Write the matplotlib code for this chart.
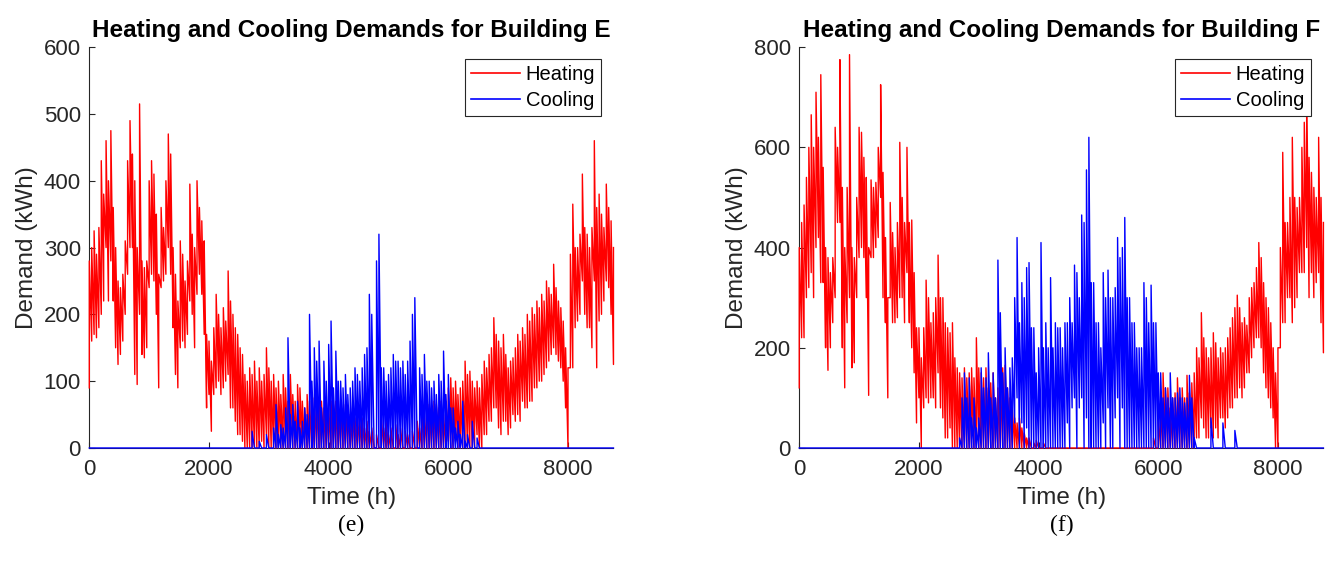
import numpy as np
import matplotlib
matplotlib.use("Agg")
import matplotlib.pyplot as plt

#-------------data-------------#
# hourly demand is far too dense to read hour by hour, so each 40 h window
# is given as the highest and lowest value visible in it
STEP = 40
HOURS = 8760

heat_e_hi = [
    280, 300, 325, 290, 330, 430, 380, 460, 400, 475, 360, 300, 250, 240, 260, 310, 430, 490, 440, 400,
    300, 515, 280, 270, 280, 400, 430, 410, 350, 260, 360, 330, 400, 470, 440, 300, 260, 220, 310, 290,
    250, 280, 395, 320, 300, 400, 360, 340, 310, 170, 160, 130, 180, 230, 200, 180, 210, 190, 265, 220,
    200, 180, 170, 150, 140, 110, 100, 120, 110, 130, 100, 120, 100, 110, 150, 120, 100, 110, 90, 100,
    80, 110, 90, 70, 110, 80, 70, 95, 90, 70, 60, 80, 70, 60, 75, 70, 65, 70, 60, 70,
    60, 70, 65, 70, 60, 70, 55, 65, 60, 50, 60, 45, 50, 40, 45, 30, 40, 25, 30, 0,
    20, 0, 45, 30, 40, 20, 30, 0, 35, 20, 30, 0, 25, 20, 0, 25, 0, 40, 30, 60,
    50, 70, 65, 60, 70, 65, 60, 70, 50, 70, 90, 105, 90, 100, 80, 90, 100, 130, 110, 115,
    100, 90, 100, 90, 110, 130, 120, 140, 150, 195, 170, 160, 150, 170, 140, 120, 130, 135, 150, 170,
    160, 180, 170, 200, 190, 210, 200, 220, 210, 230, 220, 250, 240, 230, 275, 240, 220, 210, 190, 150,
    120, 290, 365, 300, 300, 320, 410, 330, 320, 300, 330, 460, 360, 380, 350, 330, 395, 360, 340, 300,
]
heat_e_lo = [
    90, 160, 170, 165, 180, 200, 220, 300, 220, 280, 220, 150, 125, 140, 160, 200, 260, 300, 300, 110,
    95, 200, 140, 135, 150, 240, 260, 250, 200, 90, 240, 250, 260, 300, 260, 180, 110, 90, 150, 160,
    150, 170, 220, 200, 150, 230, 260, 230, 170, 60, 80, 25, 80, 90, 100, 80, 90, 100, 110, 60,
    60, 40, 20, 20, 10, 0, 0, 0, 0, 0, 0, 0, 10, 0, 20, 0, 0, 0, 0, 0,
    0, 0, 0, 0, 0, 0, 0, 0, 0, 0, 0, 0, 0, 0, 0, 0, 0, 0, 0, 0,
    0, 0, 0, 0, 0, 0, 0, 0, 0, 0, 0, 0, 0, 0, 0, 0, 0, 0, 0, 0,
    0, 0, 0, 0, 0, 0, 0, 0, 0, 0, 0, 0, 0, 0, 0, 0, 0, 0, 0, 0,
    0, 0, 0, 0, 0, 0, 0, 0, 0, 0, 10, 0, 0, 10, 0, 0, 0, 10, 0, 0,
    0, 0, 20, 0, 0, 20, 20, 40, 40, 60, 60, 30, 20, 40, 40, 20, 30, 50, 40, 50,
    40, 70, 60, 60, 70, 70, 90, 90, 100, 100, 110, 120, 130, 140, 150, 140, 130, 120, 100, 60,
    0, 120, 120, 180, 190, 200, 250, 200, 180, 180, 150, 250, 120, 190, 200, 220, 250, 240, 200, 125,
]

# cooling is zero outside its season; windows start at 2600 h
cool_e_start = 2600
cool_e_hi = [
    0, 0, 0, 25, 0, 0, 10, 0, 0, 20, 0, 0, 30, 65, 20, 35, 30, 60, 165, 50,
    65, 40, 70, 30, 40, 60, 50, 200, 100, 150, 130, 160, 60, 130, 100, 155, 190, 90, 145, 100,
    100, 90, 110, 80, 90, 100, 120, 110, 100, 120, 140, 150, 230, 200, 0, 280, 320, 120, 120, 100,
    110, 120, 140, 130, 130, 120, 130, 110, 130, 160, 200, 225, 0, 120, 110, 140, 100, 100, 90, 100,
    80, 110, 100, 145, 80, 110, 60, 60, 30, 40, 20, 70, 10, 20, 0, 40, 0, 15, 0, 0, 0,
]
cool_e_lo = [
    0, 0, 0, 0, 0, 0, 0, 0, 0, 0, 0, 0, 0, 0, 0, 0, 0, 0, 0, 0,
    0, 0, 0, 0, 0, 0, 0, 0, 0, 0, 0, 0, 0, 0, 0, 0, 0, 0, 0, 0,
    0, 0, 0, 0, 0, 0, 0, 0, 0, 0, 0, 0, 0, 0, 0, 0, 0, 0, 0, 0,
    0, 0, 0, 0, 0, 0, 0, 0, 0, 0, 0, 0, 0, 0, 0, 0, 0, 0, 0, 0,
    0, 0, 0, 0, 0, 0, 0, 0, 0, 0, 0, 0, 0, 0, 0, 0, 0, 0, 0, 0, 0,
]

heat_f_hi = [
    400, 450, 485, 540, 600, 665, 600, 710, 620, 745, 560, 400, 380, 350, 380, 640, 600, 775, 520, 400,
    520, 785, 400, 380, 500, 640, 630, 580, 540, 400, 535, 520, 530, 600, 725, 550, 420, 300, 490, 430,
    400, 450, 610, 500, 450, 600, 450, 455, 350, 240, 240, 180, 240, 335, 300, 250, 270, 300, 385, 300,
    300, 250, 240, 230, 250, 180, 160, 150, 140, 160, 140, 150, 160, 140, 220, 160, 150, 140, 160, 120,
    130, 150, 100, 120, 140, 160, 165, 120, 100, 80, 60, 50, 60, 40, 30, 20, 20, 0, 10, 15,
    0, 0, 10, 0, 0, 0, 0, 0, 0, 0, 0, 0, 0, 0, 0, 0, 0, 0, 0, 0,
    0, 0, 0, 0, 0, 0, 0, 0, 0, 0, 0, 0, 0, 0, 0, 0, 0, 0, 0, 0,
    0, 0, 0, 0, 0, 0, 0, 0, 20, 0, 60, 80, 150, 120, 120, 80, 100, 110, 140, 100,
    120, 100, 145, 110, 130, 150, 200, 180, 270, 220, 200, 180, 200, 230, 210, 180, 200, 190, 200, 220,
    240, 260, 280, 305, 280, 250, 260, 245, 300, 320, 330, 360, 410, 380, 330, 300, 280, 250, 200, 150,
    200, 400, 590, 450, 450, 500, 620, 500, 480, 500, 600, 650, 725, 580, 550, 520, 500, 620, 500, 450,
]
heat_f_lo = [
    120, 220, 220, 300, 320, 350, 300, 400, 420, 330, 330, 200, 155, 200, 250, 300, 450, 450, 200, 120,
    250, 300, 160, 170, 300, 380, 400, 380, 300, 105, 380, 380, 400, 420, 500, 300, 250, 100, 300, 250,
    250, 260, 300, 300, 250, 350, 250, 200, 150, 50, 100, 0, 80, 100, 90, 100, 100, 80, 150, 80,
    60, 20, 20, 40, 0, 0, 0, 0, 0, 0, 0, 0, 0, 0, 0, 0, 0, 0, 0, 0,
    0, 0, 0, 0, 0, 0, 0, 0, 0, 0, 0, 0, 0, 0, 0, 0, 0, 0, 0, 0,
    0, 0, 0, 0, 0, 0, 0, 0, 0, 0, 0, 0, 0, 0, 0, 0, 0, 0, 0, 0,
    0, 0, 0, 0, 0, 0, 0, 0, 0, 0, 0, 0, 0, 0, 0, 0, 0, 0, 0, 0,
    0, 0, 0, 0, 0, 0, 0, 0, 0, 0, 0, 0, 0, 0, 0, 0, 0, 0, 0, 0,
    0, 0, 0, 0, 0, 0, 20, 20, 60, 40, 20, 20, 40, 20, 40, 20, 60, 60, 40, 60,
    80, 80, 100, 100, 120, 100, 120, 150, 150, 180, 200, 220, 220, 200, 150, 120, 100, 80, 60, 0,
    0, 200, 250, 250, 300, 300, 250, 280, 300, 350, 350, 350, 400, 300, 350, 300, 330, 350, 250, 190,
]

cool_f_start = 2600
cool_f_hi = [
    0, 0, 20, 100, 150, 100, 140, 60, 100, 40, 60, 160, 120, 140, 190, 100, 150, 100, 375, 270,
    150, 200, 120, 160, 180, 300, 420, 250, 330, 300, 360, 370, 240, 240, 150, 200, 410, 200, 250, 200,
    340, 200, 250, 240, 240, 200, 250, 250, 300, 250, 365, 350, 300, 465, 450, 555, 620, 330, 330, 250,
    250, 200, 350, 300, 355, 300, 300, 320, 420, 380, 400, 460, 300, 300, 250, 250, 200, 200, 200, 330,
    300, 250, 325, 250, 250, 150, 150, 100, 120, 100, 150, 100, 100, 110, 120, 100, 90, 100, 145, 100,
    20, 0, 0, 0, 0, 0, 0, 60, 0, 0, 0, 0, 50, 0, 0, 0, 0, 35, 0, 0,
]
cool_f_lo = [
    0, 0, 0, 0, 0, 0, 0, 0, 0, 0, 0, 0, 0, 0, 0, 0, 0, 0, 0, 0,
    0, 0, 0, 0, 0, 50, 100, 0, 50, 0, 40, 0, 0, 0, 0, 0, 0, 0, 0, 0,
    0, 0, 0, 0, 0, 0, 0, 50, 0, 80, 100, 0, 80, 100, 0, 60, 0, 0, 0, 0,
    0, 0, 50, 0, 80, 0, 0, 60, 100, 0, 80, 0, 0, 0, 0, 0, 0, 0, 0, 0,
    0, 0, 0, 0, 0, 0, 0, 0, 0, 0, 0, 0, 0, 0, 0, 0, 0, 0, 0, 0,
    0, 0, 0, 0, 0, 0, 0, 0, 0, 0, 0, 0, 0, 0, 0, 0, 0, 0, 0, 0,
]

buildings = ['E', 'F']
captions = ['(e)', '(f)']
ylims = [600, 800]
yticks = [np.arange(0, 601, 100), np.arange(0, 801, 200)]
xticks = [0, 2000, 4000, 6000, 8000]
#-------------data-------------#


def window_trace(start, lo, hi):
    # one vertical stroke per window, low value then high value
    t = start + STEP * np.arange(len(hi))
    x = np.repeat(t, 2)
    y = np.column_stack([lo, hi]).ravel()
    return x, y


plt.rcParams['font.family'] = ['Liberation Sans', 'DejaVu Sans']

AXC = '#262626'

fig = plt.figure(figsize=(13.27, 5.63), dpi=100)
positions = [[0.0673, 0.2043, 0.395, 0.712], [0.6023, 0.2043, 0.395, 0.712]]

series = [(heat_e_lo, heat_e_hi, cool_e_start, cool_e_lo, cool_e_hi),
          (heat_f_lo, heat_f_hi, cool_f_start, cool_f_lo, cool_f_hi)]

for k in range(2):
    hlo, hhi, cstart, clo, chi = series[k]
    ax = fig.add_axes(positions[k])

    hx, hy = window_trace(0, hlo, hhi)
    cx, cy = window_trace(cstart, clo, chi)
    cx = np.concatenate([[0], cx, [HOURS]])
    cy = np.concatenate([[0], cy, [0]])

    ax.plot(hx, hy, color='red', lw=1.0, label='Heating', zorder=3, clip_on=False)
    ax.plot(cx, cy, color='blue', lw=1.0, label='Cooling', zorder=3, clip_on=False)

    ax.set_xlim(0, HOURS)
    ax.set_ylim(0, ylims[k])
    ax.set_xticks(xticks)
    ax.set_yticks(yticks[k])
    ax.tick_params(direction='in', length=4, width=0.8, colors=AXC, labelsize=16)
    ax.tick_params(axis='x', pad=8)
    ax.tick_params(axis='y', pad=6)
    for s in ['top', 'right']:
        ax.spines[s].set_visible(False)
    for s in ['left', 'bottom']:
        ax.spines[s].set_color(AXC)
        ax.spines[s].set_linewidth(0.8)

    ax.set_xlabel('Time (h)', fontsize=17.5, color=AXC, labelpad=5)
    ax.set_ylabel('Demand (kWh)', fontsize=17.5, color=AXC, labelpad=4)
    ax.set_title('Heating and Cooling Demands for Building ' + buildings[k],
                 fontsize=17.5, fontweight='bold', pad=7)

    leg = ax.legend(loc='upper right', fontsize=14.5, handlelength=2.4, fancybox=False,
                    framealpha=1, borderaxespad=0.6, borderpad=0.3, labelspacing=0.35,
                    handletextpad=0.3)
    leg.get_frame().set_edgecolor(AXC)
    leg.get_frame().set_linewidth(0.8)
    leg.set_zorder(5)
    for ln in leg.get_lines():
        ln.set_linewidth(1.2)

    pos = positions[k]
    fig.text(pos[0] + pos[2] / 2, 0.067, captions[k], ha='center', va='center',
             fontsize=17, family=['Liberation Serif', 'DejaVu Serif'])

plt.savefig('out.png', dpi=100)
